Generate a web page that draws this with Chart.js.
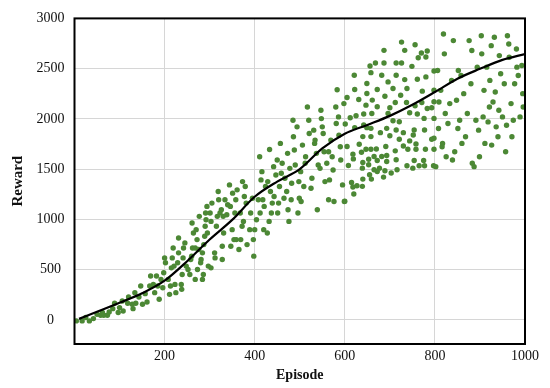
<!DOCTYPE html>
<html>
<head>
<meta charset="utf-8">
<script src="https://cdn.jsdelivr.net/npm/chart.js@4/dist/chart.umd.min.js"></script>
<style>
  html, body { margin: 0; padding: 0; background: #fff; }
  #wrap { width: 550px; height: 388px; }
</style>
</head>
<body>
<div id="wrap"><canvas id="rewardChart" width="550" height="388"></canvas></div>
<script>
// ==========================================
// DATA
// ==========================================
const scatterEpisodes = [
  4, 17, 25, 33, 42, 50, 58, 65, 73, 62, 77, 85, 89, 97, 100, 106, 108, 118, 120, 128,
  130, 134, 136, 143, 147, 151, 157, 161, 167, 169, 175, 178, 182, 185, 188, 192, 196, 198, 200, 202,
  208, 211, 213, 215, 217, 219, 221, 223, 225, 229, 231, 231, 237, 238, 239, 241, 242, 245, 248, 252,
  256, 258, 260, 261, 262, 264, 268, 268, 270, 272, 273, 276, 277, 280, 281, 284, 284, 286, 287, 289,
  290, 291, 292, 294, 295, 297, 301, 303, 303, 305, 311, 312, 315, 317, 319, 320, 323, 326, 328, 328,
  330, 331, 334, 338, 340, 344, 346, 347, 350, 351, 354, 356, 358, 359, 361, 365, 368, 369, 372, 373,
  375, 377, 379, 381, 383, 389, 391, 395, 397, 398, 400, 404, 408, 411, 412, 414, 416, 418, 420, 421,
  424, 428, 429, 432, 433, 435, 437, 439, 442, 443, 447, 450, 451, 453, 455, 457, 459, 461, 465, 467,
  471, 473, 474, 476, 478, 481, 482, 485, 486, 488, 490, 494, 496, 498, 499, 502, 503, 506, 509, 512,
  513, 517, 520, 521, 525, 527, 531, 533, 534, 537, 539, 541, 545, 547, 548, 550, 552, 554, 556, 560,
  564, 564, 566, 569, 572, 574, 576, 580, 581, 583, 586, 587, 590, 591, 595, 598, 599,
  // 600 - 800
  687, 726, 756, 733, 770, 783, 763, 780, 656, 668, 687, 714, 726, 749, 621, 658, 682, 714, 761, 780,
  798, 649, 696, 733, 622, 672, 707, 738, 798, 649, 689, 724, 772, 605, 631, 661, 712, 737, 771, 798,
  647, 672, 700, 756, 783, 793, 612, 625, 642, 660, 696, 744, 761, 776, 798, 707, 721, 601, 622, 642,
  649, 658, 679, 693, 714, 754, 777, 640, 658, 700, 730, 752, 793, 632, 721, 744, 758, 798, 605, 647,
  658, 670, 691, 712, 730, 740, 758, 779, 798, 618, 637, 653, 665, 682, 693, 619, 640, 672, 693, 714,
  653, 738, 754, 775, 797, 608, 639, 665, 677, 689, 751, 765, 777, 655, 672, 703, 716, 640, 659, 686,
  615, 627, 639, 618, 620, 600,
  // 800 - 1000
  802, 806, 808, 809, 813, 816,
  817, 819, 821, 823, 825, 829, 833, 837, 839, 841, 844, 848, 851, 852, 855, 858, 860, 864, 868, 872,
  876, 880, 882, 883, 887, 891, 894, 897, 899, 903, 904, 907, 909, 911, 915, 918, 921, 922, 925, 926,
  929, 932, 934, 936, 940, 942, 943, 946, 950, 954, 957, 959, 961, 964, 965, 969, 971, 974, 977, 981,
  982, 985, 989, 993, 995, 996
];
const scatterRewards = [
  -10, -10, 23, -10, 13, 56, 46, 46, 46, 73, 79, 112, 165, 73, 122, 188, 89, 165, 228, 155,
  112, 271, 165, 228, 337, 155, 261, 178, 337, 436, 353, 271, 436, 337, 205, 403, 320, 469, 617, 568,
  403, 254, 337, 518, 617, 716, 535, 353, 271, 568, 667, 815, 353, 304, 452, 617, 716, 766, 535, 502,
  452, 601, 634, 964, 716, 865, 716, 403, 898, 799, 502, 700, 1030, 568, 601, 403, 667, 452, 749, 832,
  931, 1063, 997, 1129, 865, 535, 1063, 980, 518, 1162, 667, 617, 931, 1030, 1277, 1195, 1063, 1096, 601, 733,
  1030, 865, 1195, 1046, 1145, 1343, 1129, 733, 898, 1261, 799, 1063, 1195, 799, 1294, 700, 1063, 799, 931, 1376,
  980, 1228, 1327, 1162, 749, 898, 1063, 1211, 799, 634, 898, 997, 1195, 1624, 1063, 1393, 1475, 1195, 898, 1129,
  1327, 865, 1376, 980, 1696, 1277, 1063, 1162, 1525, 1228, 1442, 1591, 1063, 1162, 1327, 1756, 1459, 1558, 1211, 1409,
  1277, 1657, 1096, 980, 1508, 1195, 1360, 1987, 1822, 1690, 1541, 1921, 1063, 1376, 1211, 1475, 1178, 1739, 1327, 1558,
  1624, 2119, 1987, 1855, 1310, 1409, 1888, 1756, 1789, 1657, 1096, 1541, 1508, 2086, 2003, 1921, 1855, 1673, 1376, 1558,
  1195, 1673, 1393, 1789, 1624, 1492, 1178, 2119, 1954, 2290, 2020, 1838, 1723, 1591, 1343, 2152, 1178,
  // 600 - 800
  2682, 2764, 2738, 2682, 2655, 2675, 2609, 2616, 2526, 2556, 2556, 2556, 2556, 2523, 2434, 2460, 2434, 2434, 2394, 2418,
  2477, 2352, 2368, 2391, 2292, 2292, 2302, 2302, 2286, 2253, 2226, 2236, 2276, 2213, 2193, 2187, 2163, 2163, 2163, 2170,
  2137, 2121, 2111, 2130, 2104, 2111, 2012, 2031, 2048, 2054, 2054, 2061, 2048, 2005, 2005, 1982, 1972, 1949, 1913, 1939,
  1913, 1906, 1863, 1906, 1890, 1890, 1890, 1824, 1824, 1833, 1863, 1840, 1797, 1748, 1797, 1781, 1751, 1807, 1725, 1698,
  1698, 1701, 1725, 1682, 1731, 1698, 1698, 1698, 1698, 1649, 1668, 1599, 1626, 1626, 1635, 1602, 1566, 1586, 1576, 1593,
  1543, 1533, 1586, 1586, 1533, 1536, 1510, 1494, 1510, 1484, 1510, 1533, 1533, 1444, 1477, 1461, 1494, 1401, 1401, 1421,
  1368, 1335, 1329, 1322, 1253, 1180,
  // 800 - 1000
  1525, 2482, 1904, 2168, 2284, 1723,
  1756, 2845, 2647, 2053, 1624, 1954, 2152, 2383, 1591, 2779, 1673, 2185, 1904, 2482, 1987, 2432, 1756, 2251, 1822, 2053,
  2779, 2350, 2680, 1558, 1525, 1987, 2515, 1888, 1624, 2828, 2647, 2020, 2284, 1756, 2515, 1970, 2119, 2383, 2729, 1739,
  2168, 2812, 2267, 1921, 1822, 2086, 2630, 2449, 2020, 2350, 1673, 1937, 2828, 2746, 2614, 2152, 1822, 1987, 2350, 2696,
  2515, 2432, 2020, 2531, 2251, 2119
];

// smoothed trend line
const trendEpisodes = [10, 50, 100, 150, 200, 250, 300, 350, 400, 450, 500, 550, 600, 650, 700, 750, 800, 850, 900, 950, 1000];
const trendRewards  = [10, 80, 170, 265, 390, 584, 800, 995, 1225, 1376, 1500, 1706, 1853, 1940, 2030, 2140, 2267, 2400, 2498, 2587, 2645];

const xTicks = [0, 200, 400, 600, 800, 1000];
const yTicks = [0, 500, 1000, 1500, 2000, 2500, 3000];

// ==========================================
// CHART
// ==========================================
const serif = "'Liberation Serif', 'Times New Roman', serif";

const frameBox = {
  id: 'frameBox',
  afterDraw(chart) {
    const { ctx, chartArea: a } = chart;
    ctx.save();
    ctx.strokeStyle = '#000';
    ctx.lineWidth = 2;
    ctx.strokeRect(a.left, a.top, a.right - a.left, a.bottom - a.top);
    ctx.restore();
  }
};

new Chart(document.getElementById('rewardChart'), {
  type: 'scatter',
  data: {
    datasets: [
      {
        type: 'line',
        label: 'Trend',
        data: trendEpisodes.map((e, i) => ({ x: e, y: trendRewards[i] })),
        borderColor: '#000',
        borderWidth: 2.2,
        pointRadius: 0,
        tension: 0.4,
        cubicInterpolationMode: 'monotone',
        fill: false,
        order: 0
      },
      {
        label: 'Reward',
        data: scatterEpisodes.map((e, i) => ({ x: e, y: scatterRewards[i] })),
        backgroundColor: '#4c8835',
        borderColor: '#4c8835',
        pointRadius: 2.7,
        pointBorderWidth: 0,
        order: 1
      }
    ]
  },
  options: {
    responsive: false,
    animation: false,
    layout: { padding: { top: 17, right: 25, left: 0, bottom: 4 } },
    plugins: { legend: { display: false }, tooltip: { enabled: false } },
    scales: {
      x: {
        type: 'linear',
        min: 0,
        max: 1000,
        afterBuildTicks: (s) => { s.ticks = xTicks.map(v => ({ value: v })); },
        afterFit: (s) => { s.height = 40; },
        grid: { color: '#d6d6d6', lineWidth: 1, drawTicks: false },
        border: { display: false },
        ticks: {
          color: '#111',
          font: { family: serif, size: 14 },
          padding: 4,
          maxRotation: 0,
          callback: (v) => v === 0 ? '' : String(v)
        },
        title: {
          display: true,
          text: 'Episode',
          color: '#111',
          font: { family: serif, size: 14, weight: 'bold' },
          padding: { top: 0, bottom: 0 }
        }
      },
      y: {
        type: 'linear',
        min: -240,
        max: 3000,
        afterBuildTicks: (s) => { s.ticks = yTicks.map(v => ({ value: v })); },
        afterFit: (s) => { s.width = 74.5; },
        grid: { color: '#d6d6d6', lineWidth: 1, drawTicks: false },
        border: { display: false },
        ticks: {
          color: '#111',
          font: { family: serif, size: 14 },
          padding: 10,
          crossAlign: 'center',
          callback: (v) => String(v)
        },
        title: {
          display: true,
          text: 'Reward',
          color: '#111',
          font: { family: serif, size: 15, weight: 'bold' },
          padding: { top: 9, bottom: 0 }
        }
      }
    }
  },
  plugins: [frameBox]
});
</script>
</body>
</html>
